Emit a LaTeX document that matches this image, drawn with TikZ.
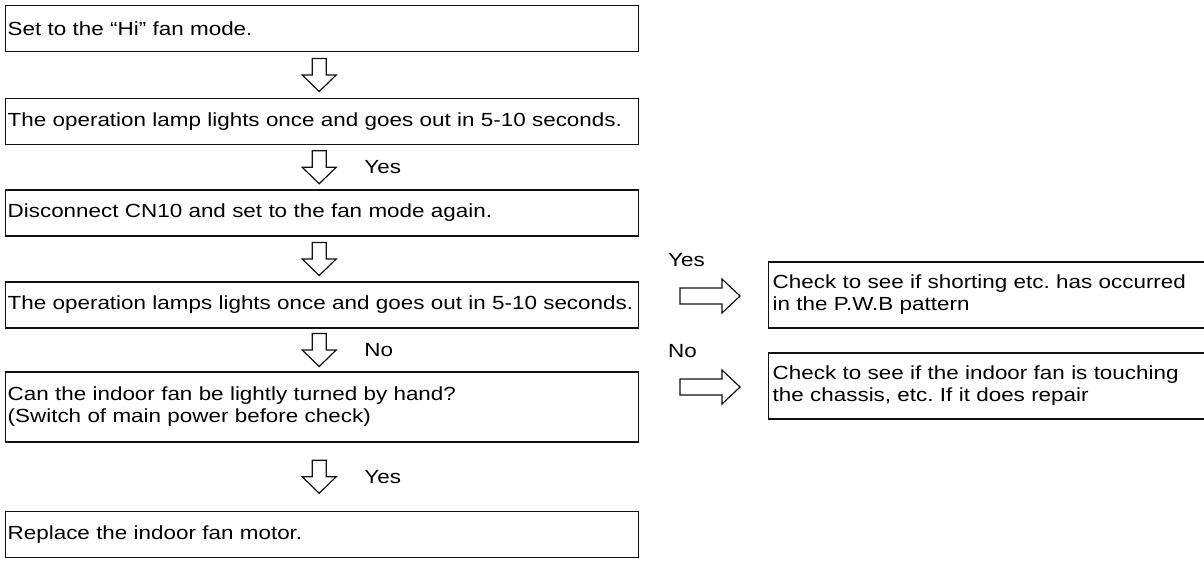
\documentclass[tikz,border=0pt]{standalone}
\usepackage{fontspec}
\setmainfont{Liberation Sans}[FakeStretch=1.18]
\definecolor{FInk}{HTML}{111111}
\usetikzlibrary{arrows.meta,positioning,calc}

\tikzset{
  stepbox/.style={draw=FInk,line width=1.4pt,anchor=west,text width=629pt,
    inner xsep=2pt,inner ysep=0pt,align=left,minimum height=46pt,
    font=\fontsize{19}{22}\selectfont},
  sidebox/.style={stepbox,text width=440pt,minimum height=66pt},
  answer/.style={font=\fontsize{19}{22}\selectfont,inner sep=0pt},
  % hollow block arrows, drawn round their centre
  pics/downarrow/.style={code={
    \draw[FInk,line width=1.2pt,line join=miter]
      (-7,-16.5) -- (-7,0) -- (-17,0) -- (0,16.5) -- (17,0) -- (7,0) -- (7,-16.5) -- cycle;
    \coordinate (-east) at (17,0);
  }},
  pics/sidearrow/.style={code={
    \draw[FInk,line width=1.2pt,line join=miter]
      (-30,-8) -- (12,-8) -- (12,-17) -- (30,0) -- (12,17) -- (12,8) -- (-30,8) -- cycle;
    \coordinate (-nw) at (-30,-17);
  }}
}

\begin{document}
\frenchspacing
\begin{tikzpicture}[x=1pt,y=-1pt]
  \useasboundingbox (0,0) rectangle (1204,567);

  % main column of checks
  \node[stepbox] (hifan) at (5,28.5) {Set to the “Hi” fan mode.};
  \node[stepbox] (lamp) at (5,121.5) {The operation lamp lights once and goes out in 5-10 seconds.};
  \node[stepbox] (cnten) at (5,213) {Disconnect CN10 and set to the fan mode again.};
  \node[stepbox] (lamps) at (5,305) {The operation lamps lights once and goes out in 5-10 seconds.};
  \node[stepbox,minimum height=70pt] (byhand) at (5,407)
    {Can the indoor fan be lightly turned by hand?\\(Switch of main power before check)};
  \node[stepbox] (motor) at (5,534.5) {Replace the indoor fan motor.};

  % hollow arrows between the steps
  \foreach \a/\b/\ans [count=\i] in {hifan/lamp/,lamp/cnten/Yes,cnten/lamps/,lamps/byhand/No,byhand/motor/Yes}{
    \pic (dn\i) at ($(\a.south)!0.5!(\b.north)+(-3,0)$) {downarrow};
    \node[answer,anchor=west] (ans\i) at ($(dn\i-east)+(28,0)$) {\ans};
  }

  % side branches
  \node[sidebox,inner xsep=4pt] (pwb) at (768,295) {Check to see if shorting etc. has occurred\\in the P.W.B pattern};
  \node[sidebox,inner xsep=4pt] (chassis) at (768,386) {Check to see if the indoor fan is touching\\the chassis, etc. If it does repair};
  \pic (yesside) at ($(pwb.west)+(-58,1)$) {sidearrow};
  \pic (noside) at ($(chassis.west)+(-58,1)$) {sidearrow};
  \node[answer,anchor=south west] (yeslbl) at ($(yesside-nw)+(-12,-12)$) {Yes};
  \node[answer,anchor=south west] (nolbl) at ($(noside-nw)+(-12,-12)$) {No};
\end{tikzpicture}
\end{document}
